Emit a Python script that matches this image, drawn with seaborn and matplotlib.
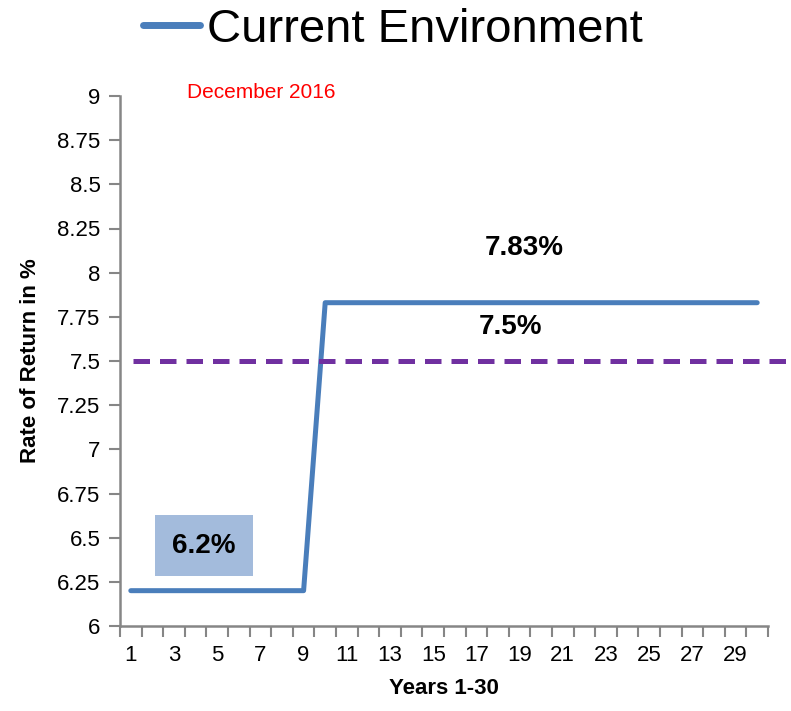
import matplotlib
matplotlib.use("Agg")
import matplotlib.pyplot as plt
from matplotlib import font_manager
import numpy as np
import pandas as pd
import seaborn as sns

# Return assumption per projection year
years = list(range(1, 31))
early_rate = 6.2
later_rate = 7.83
switch_year = 10
rates = [early_rate if y < switch_year else later_rate for y in years]
target_rate = 7.5

series_name = "Current Environment"
subtitle = "December 2016"
y_ticks = [6, 6.25, 6.5, 6.75, 7, 7.25, 7.5, 7.75, 8, 8.25, 8.5, 8.75, 9]
x_tick_years = list(range(1, 30, 2))

df = pd.DataFrame({"Year": years, "Rate": rates, "Series": series_name})

sns.set_style("white")
names = {f.name for f in font_manager.fontManager.ttflist}
family = ["Liberation Sans Narrow"] if "Liberation Sans Narrow" in names else []
plt.rcParams["font.family"] = family + ["Liberation Sans", "DejaVu Sans"]
plt.rcParams["text.color"] = "#000000"

W, H = 791, 711
fig = plt.figure(figsize=(W / 100, H / 100), dpi=100)
ax = fig.add_axes([120 / W, 1 - 626 / H, 648 / W, 530 / H])

blue = "#4A7EBB"
purple = "#7030A0"
grey = "#868686"

sns.lineplot(data=df, x="Year", y="Rate", hue="Series", palette=[blue],
             linewidth=3.6, ax=ax, legend=False, solid_capstyle="round")

ax.axhline(target_rate, xmin=0.02, xmax=1.04, color=purple, linewidth=3.6,
           linestyle=(0, (3.3, 2.0)), clip_on=False)

ax.set_xlim(0.5, 30.5)
ax.set_ylim(6, 9)
ax.set_yticks(y_ticks)
ax.set_yticklabels([f"{t:g}" for t in y_ticks])
ax.set_xticks(x_tick_years)
ax.set_xticks(np.arange(0.5, 31, 1), minor=True)
ax.tick_params(axis="x", which="major", length=0, labelsize=16, pad=14, colors="#000000")
ax.tick_params(axis="x", which="minor", length=8, width=1.5, color=grey, direction="out", bottom=True)
ax.tick_params(axis="y", which="major", length=8, width=1.5, color=grey, direction="out",
               labelsize=16, left=True, labelcolor="#000000", pad=6)

for side in ["top", "right"]:
    ax.spines[side].set_visible(False)
for side in ["left", "bottom"]:
    ax.spines[side].set_color(grey)
    ax.spines[side].set_linewidth(1.8)

ax.set_xlabel("Years 1-30", fontsize=16, fontweight="bold", labelpad=8, color="#000000")
ax.set_ylabel("Rate of Return in %", fontsize=16, fontweight="bold", labelpad=12, color="#000000")

# Value labels
ax.text(19.2, 8.14, f"{later_rate:.2f}%", fontsize=20, ha="center", va="center",
        fontweight="semibold")
ax.text(18.6, 7.69, f"{target_rate:.1f}%", fontsize=20, ha="center", va="center",
        fontweight="semibold")
ax.text(4.4, 6.455, f"{early_rate:.1f}%", fontsize=20, ha="center", va="center",
        fontweight="semibold",
        bbox=dict(boxstyle="square,pad=0.62", facecolor="#A3BBDC", edgecolor="none"))

ax.text(3.6, 9.02, subtitle, color="#FF0000", fontsize=15, ha="left", va="center")

# Legend across the top
handle = plt.Line2D([], [], color=blue, linewidth=5, solid_capstyle="round")
fig.legend([handle], [series_name], loc="center", bbox_to_anchor=(393 / W, 1 - 30 / H),
           frameon=False, fontsize=34, handlelength=1.2, handletextpad=0.15,
           borderpad=0, borderaxespad=0)

fig.savefig("out.png", dpi=100)
